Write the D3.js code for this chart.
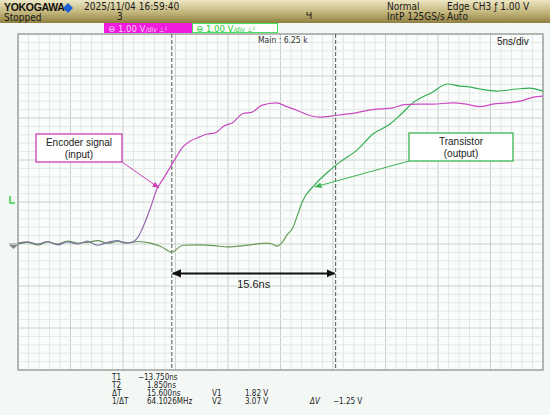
<!DOCTYPE html>
<html><head><meta charset="utf-8">
<script src="https://cdn.jsdelivr.net/npm/d3@7"></script>
<style>
html,body{margin:0;padding:0;background:#f4f8f5;}
svg{display:block;}
</style></head>
<body>
<svg id="c" width="550" height="415"></svg>
<script>
// ---------- data ----------
const tMag = [-28.4,-27.5,-26.5,-25.6,-24.6,-23.7,-22.7,-21.8,-20.8,-19.9,-18.9,-18.2,-17.7,-17.0,-16.5,-15.8,-15.2,-14.5,-13.9,-13.3,-12.7,-12.0,-11.1,-10.4,-9.7,-8.7,-8.0,-7.0,-6.1,-5.2,-3.8,-2.8,-1.9,-0.6,0.3,1.8,3.9,5.4,7.3,8.4,9.6,11.1,13.0,14.3,15.6,16.8,18.2,19.4,20.6,21.6];
const vMag = [0.02,0.05,0.00,0.06,-0.02,0.05,0.00,0.07,-0.03,0.04,0.08,0.02,0.03,0.15,0.40,0.85,1.29,1.58,1.83,2.08,2.31,2.45,2.55,2.62,2.64,2.82,2.88,3.10,3.14,3.30,3.36,3.27,3.19,3.06,3.02,3.06,3.13,3.20,3.24,3.32,3.33,3.33,3.36,3.33,3.27,3.33,3.36,3.40,3.49,3.52];
const tGrn = [-28.4,-27.5,-26.5,-25.6,-24.6,-23.7,-22.7,-21.8,-20.8,-19.9,-18.9,-17.9,-16.9,-15.8,-14.8,-13.75,-12.7,-11.1,-9.7,-8.5,-7.4,-6.3,-4.7,-4.2,-3.75,-3.2,-2.8,-2.2,-1.85,-1.3,-0.1,1.0,2.25,3.9,5.4,7.0,8.0,9.2,11.1,12.5,13.7,14.6,15.6,17.2,19.1,20.3,21.6];
const vGrn = [0.00,0.04,-0.02,0.05,0.00,0.07,0.02,0.04,0.08,0.02,0.06,0.03,0.06,0.02,-0.06,-0.19,-0.03,-0.02,-0.04,-0.07,-0.05,-0.02,0.02,0.00,-0.05,0.05,0.21,0.40,0.64,1.02,1.42,1.69,1.95,2.24,2.62,2.85,3.07,3.36,3.62,3.81,3.76,3.74,3.69,3.64,3.69,3.71,3.64];
const cursorTimes = [-13.75, 1.85];
const deltaLabel = "15.6ns";
const readLabels = ["T1","T2","\u0394T","1/\u0394T"];
const readValues = ["\u221213.750ns","1.850ns","15.600ns","64.1026MHz"];
const vLabels = ["V1","V2"];
const vValues = ["1.82 V","3.07 V"];
const dvLabel = "\u0394V", dvValue = "\u22121.25 V";
const annotations = [
  {lines:["Encoder signal","(input)"], color:"#cc3fb8"},
  {lines:["Transistor","(output)"], color:"#3cb454"}
];

// ---------- layout ----------
const svg = d3.select("#c");
const X0=18, X1=543, Y0=34, Y1=370;
const x = d3.scaleLinear().domain([-28.4,21.6]).range([X0,X1]);
const y = d3.scaleLinear().domain([-3,5]).range([Y1,Y0]);

const defs = svg.append("defs");
const hg = defs.append("linearGradient").attr("id","hdr").attr("x1",0).attr("y1",0).attr("x2",0).attr("y2",1);
hg.append("stop").attr("offset","0%").attr("stop-color","#ece6c4");
hg.append("stop").attr("offset","55%").attr("stop-color","#c2b57a");
hg.append("stop").attr("offset","100%").attr("stop-color","#8f7f40");

// header
svg.append("rect").attr("x",0).attr("y",0).attr("width",550).attr("height",23).attr("fill","url(#hdr)");
const hf = "'Liberation Sans Narrow','DejaVu Sans Condensed',sans-serif";
svg.append("text").attr("x",4).attr("y",11).attr("font-family","'Liberation Sans',Arial,sans-serif").attr("font-weight","bold").attr("font-size",10.5).attr("fill","#111").attr("letter-spacing","-0.3").text("YOKOGAWA");
svg.append("path").attr("d","M68,3 L73,8 L68,13 L63,8 Z").attr("fill","#1d5fd6");
const hdrTxt = [
  {x:84,y:10,t:"2025/11/04  16:59:40"},
  {x:4,y:21,t:"Stopped"},
  {x:117,y:20,t:"3"},
  {x:387,y:10,t:"Normal"},
  {x:447,y:10,t:"Edge CH3 \u0192 1.00 V"},
  {x:387,y:20,t:"IntP  125GS/s"},
  {x:447,y:20,t:"Auto"}
];
svg.selectAll(".ht").data(hdrTxt).join("text").attr("x",d=>d.x).attr("y",d=>d.y)
  .attr("font-family",hf).attr("font-size",10).attr("fill","#1a1a1a").text(d=>d.t);
// trigger position symbol
svg.append("path").attr("d","M307,12 v3 h4 M311,12 v7").attr("stroke","#222").attr("stroke-width",1).attr("fill","none");

// channel labels
svg.append("rect").attr("x",104).attr("y",23).attr("width",88).attr("height",10).attr("fill","#f01adf");
svg.append("text").attr("x",108).attr("y",31.5).attr("font-family",hf).attr("font-size",9.5).attr("fill","#ffd0f6")
  .text("\u2296  1.00 V").append("tspan").attr("font-size",7).attr("font-style","italic").text("/div \u22a5\u00b9");
svg.append("rect").attr("x",192.5).attr("y",23.5).attr("width",85).attr("height",9).attr("fill","#fff").attr("stroke","#44e05a").attr("stroke-width",1);
svg.append("text").attr("x",196).attr("y",31.5).attr("font-family",hf).attr("font-size",9.5).attr("fill","#22cc33")
  .text("\u2296  1.00 V").append("tspan").attr("font-size",7).attr("font-style","italic").text("/div \u22a5\u00b9");

// plot background + grid
svg.append("rect").attr("x",X0).attr("y",Y0).attr("width",X1-X0).attr("height",Y1-Y0).attr("fill","#fbfdfc");
const gx = d3.range(0,51).map(i=>-28.4+i*1.0);
const gy = d3.range(0,41).map(i=>-3+i*0.2);
const grid = svg.append("g");
grid.selectAll(".gx").data(gx).join("line")
  .attr("x1",d=>x(d)).attr("x2",d=>x(d)).attr("y1",Y0).attr("y2",Y1)
  .attr("stroke",(d,i)=> i%5===0 ? "#c6d1ca" : "#e1e9e4").attr("stroke-width",1);
grid.selectAll(".gy").data(gy).join("line")
  .attr("y1",d=>y(d)).attr("y2",d=>y(d)).attr("x1",X0).attr("x2",X1)
  .attr("stroke",(d,i)=> i%5===0 ? "#c6d1ca" : "#e1e9e4").attr("stroke-width",1);
svg.append("rect").attr("x",X0).attr("y",Y0).attr("width",X1-X0).attr("height",Y1-Y0).attr("fill","none").attr("stroke","#a3a8a5").attr("stroke-width",1.5);

// Main label
svg.append("text").attr("x",258).attr("y",43).attr("font-family",hf).attr("font-size",8.5).attr("fill","#333").text("Main : 6.25 k");
svg.append("text").attr("x",497).attr("y",45).attr("font-family","'Liberation Sans',Arial,sans-serif").attr("font-size",10).attr("fill","#222").text("5ns/div");

// cursors
svg.selectAll(".cur").data(cursorTimes).join("line")
  .attr("x1",d=>x(d)).attr("x2",d=>x(d)).attr("y1",Y0).attr("y2",Y1)
  .attr("stroke","#555").attr("stroke-width",1).attr("stroke-dasharray","4,2");

// traces with gradients
function grad(id, stops){
  const g = defs.append("linearGradient").attr("id",id).attr("gradientUnits","userSpaceOnUse")
    .attr("x1",X0).attr("x2",X1).attr("y1",0).attr("y2",0);
  stops.forEach(s=>g.append("stop").attr("offset",((x(s[0])-X0)/(X1-X0)*100)+"%").attr("stop-color",s[1]));
}
grad("gm",[[-28.4,"#7a7796"],[-17.5,"#7c77a8"],[-14.5,"#c44ac0"],[21.6,"#d148c4"]]);
grad("gg",[[-28.4,"#5f8a55"],[-3.0,"#6b9d58"],[0,"#33ad52"],[21.6,"#2fae52"]]);
const line = d3.line().x(d=>x(d[0])).y(d=>y(d[1])).curve(d3.curveMonotoneX);
svg.append("path").datum(d3.zip(tGrn,vGrn)).attr("d",line).attr("fill","none").attr("stroke","url(#gg)").attr("stroke-width",1.2);
svg.append("path").datum(d3.zip(tMag,vMag)).attr("d",line).attr("fill","none").attr("stroke","url(#gm)").attr("stroke-width",1.2);

// side markers: trigger level & ground
svg.append("path").attr("d",`M10,${y(1)-6} v7 h5`).attr("stroke","#3ad24a").attr("stroke-width",1.5).attr("fill","none");
svg.append("path").attr("d",`M9,${y(0)+1} h9 l-4.5,4 Z`).attr("fill","#8a8a8a");
svg.append("line").attr("x1",9).attr("x2",18).attr("y1",y(0)).attr("y2",y(0)).attr("stroke","#8a8a8a");

// annotations
const boxes = [
  {x:36,y:134,w:86,h:28, ax:122, ay:162},
  {x:409,y:133,w:104,h:28, ax:409, ay:161}
];
boxes.forEach((b,i)=>{
  const a = annotations[i];
  const mk = "ar"+i;
  defs.append("marker").attr("id",mk).attr("viewBox","0 0 10 10").attr("refX",9).attr("refY",5)
    .attr("markerWidth",7).attr("markerHeight",7).attr("orient","auto").attr("markerUnits","userSpaceOnUse")
    .append("path").attr("d","M0,1 L10,5 L0,9 Z").attr("fill",a.color);
  const tx = i===0 ? x(-15.0) : x(-0.1), ty = i===0 ? y(1.34) : y(1.36);
  svg.append("line").attr("x1",b.ax).attr("y1",b.ay).attr("x2",tx).attr("y2",ty)
    .attr("stroke",a.color).attr("stroke-width",1).attr("marker-end",`url(#${mk})`);
  svg.append("rect").attr("x",b.x).attr("y",b.y).attr("width",b.w).attr("height",b.h)
    .attr("fill","#ffffff").attr("stroke",a.color).attr("stroke-width",1.3);
  a.lines.forEach((l,j)=>{
    svg.append("text").attr("x",b.x+b.w/2).attr("y",b.y+12+j*11.5).attr("text-anchor","middle")
      .attr("font-family","'Liberation Sans',Arial,sans-serif").attr("font-size",10).attr("fill","#222").text(l);
  });
});

// delta arrow
defs.append("marker").attr("id","blk").attr("viewBox","0 0 10 10").attr("refX",9).attr("refY",5)
  .attr("markerWidth",9).attr("markerHeight",9).attr("orient","auto-start-reverse").attr("markerUnits","userSpaceOnUse")
  .append("path").attr("d","M0,0.5 L10,5 L0,9.5 Z").attr("fill","#111");
const ay = y(-0.7);
svg.append("line").attr("x1",x(cursorTimes[0])+1).attr("x2",x(cursorTimes[1])-1).attr("y1",ay).attr("y2",ay)
  .attr("stroke","#111").attr("stroke-width",2).attr("marker-start","url(#blk)").attr("marker-end","url(#blk)");
svg.append("text").attr("x",(x(cursorTimes[0])+x(cursorTimes[1]))/2).attr("y",ay+15).attr("text-anchor","middle")
  .attr("font-family","'Liberation Sans',Arial,sans-serif").attr("font-size",11).attr("fill","#222").text(deltaLabel);

// readouts
const rf = hf;
const fs = 8;
const rows=[379.5,387.8,396.1,404.4];
readLabels.forEach((l,i)=>{
  svg.append("text").attr("x",112).attr("y",rows[i]).attr("font-family",rf).attr("font-size",fs).attr("fill","#222").text(l);
  svg.append("text").attr("x",i===0?138:147).attr("y",rows[i]).attr("font-family",rf).attr("font-size",fs).attr("fill","#222").text(readValues[i]);
});
vLabels.forEach((l,i)=>{
  svg.append("text").attr("x",212).attr("y",rows[2+i]).attr("font-family",rf).attr("font-size",fs).attr("fill","#222").text(l);
  svg.append("text").attr("x",245).attr("y",rows[2+i]).attr("font-family",rf).attr("font-size",fs).attr("fill","#222").text(vValues[i]);
});
svg.append("text").attr("x",310).attr("y",rows[3]).attr("font-family",rf).attr("font-size",fs).attr("font-style","italic").attr("fill","#222").text(dvLabel);
svg.append("text").attr("x",333).attr("y",rows[3]).attr("font-family",rf).attr("font-size",fs).attr("fill","#222").text(dvValue);
</script>
</body></html>
